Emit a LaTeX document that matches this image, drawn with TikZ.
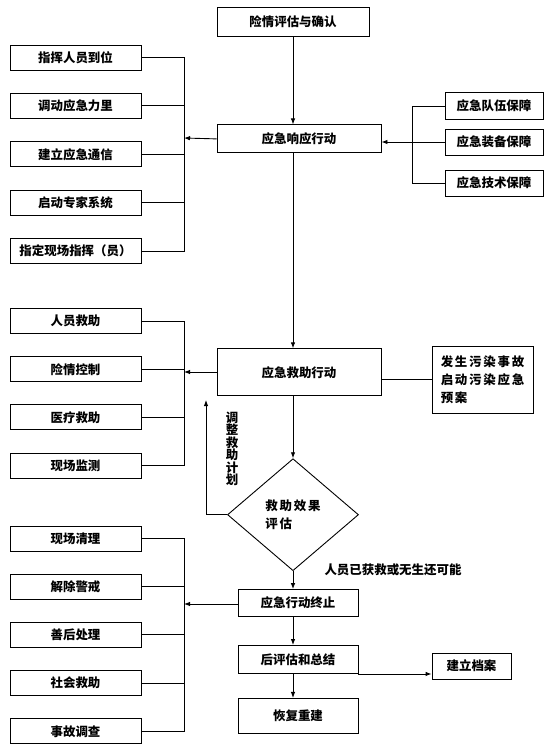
\documentclass[tikz,border=0pt]{standalone}
\usepackage{fontspec}
\setmainfont{Noto Sans CJK SC}
\usetikzlibrary{arrows.meta, shapes.geometric, positioning}

\begin{document}
\begin{tikzpicture}[
  x=1bp, y=-1bp,
  >={Latex[length=6bp,width=4.5bp]},
  font=\bfseries\fontsize{12.5}{15}\selectfont,
  box/.style={
    rectangle,
    draw=black, line width=0.9bp,
    inner sep=0pt,
    align=center
  },
  sidebox/.style={box, minimum width=131bp, minimum height=25bp},
  mainbox/.style={box, minimum width=120bp, minimum height=28bp},
  wide/.style={font=\bfseries\fontsize{12.5}{18}\selectfont\addfontfeature{LetterSpace=14}},
  arrow/.style={->, line width=0.9bp},
  line/.style={line width=0.9bp}
]
\useasboundingbox (0,0) rectangle (550,745);

% Main column
\node[mainbox, minimum width=152bp, minimum height=29bp] (alert) at (293,21.5) {险情评估与确认};
\node[mainbox, minimum width=164bp, below=88bp of alert, xshift=6bp] (response) {应急响应行动};
\node[mainbox, minimum width=164bp, minimum height=47bp, below=195bp of response] (rescue) {应急救助行动};
\node[diamond, draw=black, line width=0.9bp, inner sep=0pt,
      minimum width=131bp, minimum height=112bp, align=left, wide,
      below=62bp of rescue, xshift=-6bp] (check) {救助效果\\评估};
\node[mainbox, minimum height=27bp, below=18bp of check, xshift=5bp] (stop) {应急行动终止};
\node[mainbox, below=28bp of stop] (review) {后评估和总结};
\node[mainbox, minimum height=35bp, below=24bp of review] (rebuild) {恢复重建};

% Left group: response
\node[sidebox] (cmd) at (75.5,57.5) {指挥人员到位};
\node[sidebox, below=22.5bp of cmd] (force) {调动应急力里};
\node[sidebox, below=22.5bp of force] (comm) {建立应急通信};
\node[sidebox, below=22.5bp of comm] (expert) {启动专家系统};
\node[sidebox, below=22.5bp of expert] (chief) {指定现场指挥（员）};

% Right group: support
\node[box, minimum width=98bp, minimum height=27bp] (team) at (494,106) {应急队伍保障};
\node[box, minimum width=98bp, minimum height=26bp] (equip) at (494,142) {应急装备保障};
\node[box, minimum width=98bp, minimum height=26bp] (tech) at (494,183) {应急技术保障};

% Left group: rescue
\node[sidebox] (people) at (75.5,321) {人员救助};
\node[sidebox, below=22.3bp of people] (hazard) {险情控制};
\node[sidebox, below=22.3bp of hazard] (medical) {医疗救助};
\node[sidebox, below=22.3bp of medical] (monitor) {现场监测};

% Pollution plan
\node[box, minimum width=101bp, minimum height=67bp, align=left, wide] (pollution) at (482.5,379.5) {发生污染事故\\启动污染应急\\预案};

% Left group: termination
\node[sidebox] (clean) at (75.5,538.5) {现场清理};
\node[sidebox, below=22.3bp of clean] (alarm) {解除警戒};
\node[sidebox, below=22.3bp of alarm] (after) {善后处理};
\node[sidebox, below=22.3bp of after] (social) {社会救助};
\node[sidebox, below=22.3bp of social] (inquiry) {事故调查};

% Archive
\node[box, minimum width=79bp, minimum height=26bp] (archive) at (471.5,666) {建立档案};

% Labels
\node[align=center, font=\bfseries\fontsize{12.5}{12.5}\selectfont] (adjust) at (232,449) {调\\整\\救\\助\\计\\划};
\node (saved) at (393,570) {人员已获救或无生还可能};

% Bus points
\coordinate (busA) at (184,138);
\coordinate (busB) at (412,142);
\coordinate (busC) at (184,372);
\coordinate (busD) at (184,604);
\coordinate (back) at (206,400);

% Arrows (main line runs at the x of the first box)
\draw[arrow] (alert.south) -- (alert.south |- response.north);
\draw[arrow] (alert.south |- response.south) -- (alert.south |- rescue.north);
\draw[arrow] (alert.south |- rescue.south) -- (check.north);
\draw[arrow] (check.south) -- (check.south |- stop.north);
\draw[arrow] (check.south |- stop.south) -- (check.south |- review.north);
\draw[arrow] (check.south |- review.south) -- (check.south |- rebuild.north);

\draw[arrow] (response.west) -- (busA);
\draw[line] (cmd.east) -| (busA);
\draw[line] (force.east) -| (busA);
\draw[line] (comm.east) -| (busA);
\draw[line] (expert.east) -| (busA);
\draw[line] (chief.east) -| (busA);

\draw[line] (team.west) -| (busB);
\draw[line] (tech.west) -| (busB);
\draw[arrow] (equip.west) -- (equip.west -| response.east);

\draw[arrow] (rescue.west |- busC) -- (busC);
\draw[line] (people.east) -| (busC);
\draw[line] (hazard.east) -| (busC);
\draw[line] (medical.east) -| (busC);
\draw[line] (monitor.east) -| (busC);

\draw[line] (rescue.east |- pollution.west) -- (pollution.west);
\draw[arrow] (check.west) -| (back);

\draw[arrow] (stop.west |- busD) -- (busD);
\draw[line] (clean.east) -| (busD);
\draw[line] (alarm.east) -| (busD);
\draw[line] (after.east) -| (busD);
\draw[line] (social.east) -| (busD);
\draw[line] (inquiry.east) -| (busD);

\draw[arrow] (review.south east) -- (review.south east -| archive.west);

\end{tikzpicture}
\end{document}
